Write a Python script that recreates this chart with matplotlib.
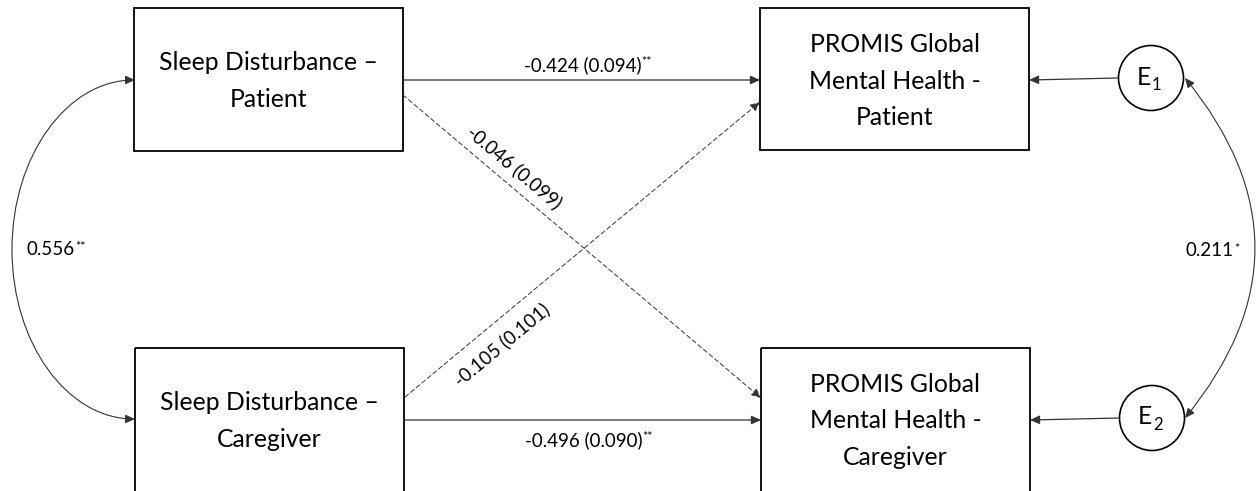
import numpy as np
import matplotlib
matplotlib.use("Agg")
import matplotlib.pyplot as plt
from matplotlib.patches import Rectangle, Circle, FancyArrowPatch
from matplotlib.path import Path

# ---- model content ----
predictors = ["Sleep Disturbance –\nPatient", "Sleep Disturbance –\nCaregiver"]
outcomes = ["PROMIS Global\nMental Health -\nPatient", "PROMIS Global\nMental Health -\nCaregiver"]
error_terms = ["1", "2"]

direct_est = [-0.424, -0.496]
direct_se = [0.094, 0.090]
direct_sig = ["**", "**"]

cross_est = [-0.046, -0.105]     # patient->caregiver, caregiver->patient
cross_se = [0.099, 0.101]
cross_sig = ["", ""]

pred_cov = 0.556
pred_cov_sig = "**"
err_cov = 0.211
err_cov_sig = "*"

FONT = "Lato"
plt.rcParams["font.family"] = [FONT, "DejaVu Sans"]

fig = plt.figure(figsize=(12.56, 4.91), dpi=100)
ax = fig.add_axes([0, 0, 1, 1])
ax.set_xlim(0, 1256)
ax.set_ylim(491, 0)
ax.axis("off")

LINE = "#333333"
BOX_FS = 17.8
LAB_FS = 13.5
STAR_FS = 9

# layout
pred_boxes = [(134, 8, 269, 143), (135, 348, 269, 145)]
out_boxes = [(760, 8, 269, 142), (761, 348, 269, 145)]
err_centers = [(1151, 78), (1152, 418)]
err_r = 32.5


def arrow(path_or_pts, style="-|>", ls="-", lw=0.9, color=LINE):
    kw = dict(arrowstyle=style + ",head_length=0.4,head_width=0.18",
              mutation_scale=14.4, lw=lw, ls=ls, color=color, shrinkA=0, shrinkB=0)
    if isinstance(path_or_pts, Path):
        a = FancyArrowPatch(path=path_or_pts, **kw)
    else:
        (x0, y0), (x1, y1) = path_or_pts
        a = FancyArrowPatch((x0, y0), (x1, y1), **kw)
    ax.add_patch(a)
    return a


def starred(x, y, text, stars, fs=LAB_FS, rotation=0, ha="center"):
    t = ax.text(x, y, text, fontsize=fs, ha=ha, va="center", rotation=rotation,
                rotation_mode="anchor", color="black")
    if stars:
        ax.annotate(stars, xy=(1.0, 0.98), xycoords=t, xytext=(0.3, 0),
                    textcoords="offset points", fontsize=STAR_FS, ha="left", va="top")
    return t


def fmt(est, se):
    return f"{est:.3f} ({se:.3f})"


# boxes
for (x, y, w, h), lab in zip(pred_boxes + out_boxes, predictors + outcomes):
    ax.add_patch(Rectangle((x, y), w, h, fill=False, ec="black", lw=1.3))
    ax.text(x + w / 2, y + 73, lab, fontsize=BOX_FS, ha="center", va="center",
            linespacing=1.7)

# error circles
for (cx, cy), sub in zip(err_centers, error_terms):
    ax.add_patch(Circle((cx, cy), err_r, fill=False, ec="black", lw=1.2))
    e = ax.text(cx - 7, cy - 1, "E", fontsize=BOX_FS, ha="center", va="center")
    ax.annotate(sub, xy=(1.0, 0.15), xycoords=e, xytext=(0.5, 0),
                textcoords="offset points", fontsize=12, ha="left", va="center")

# direct paths
direct_y = [80, 420]
direct_lab_y = [65, 440]
for i in range(2):
    px, py, pw, ph = pred_boxes[i]
    ox, oy, ow, oh = out_boxes[i]
    y = direct_y[i]
    arrow([(px + pw, y), (ox, y)])
    starred((px + pw + ox) / 2 + 1, direct_lab_y[i], fmt(direct_est[i], direct_se[i]), direct_sig[i])

# cross-lagged paths (dashed)
cross_pts = [[(403, 95), (761, 398)], [(405, 397), (760, 102)]]
cross_lab = [(515, 167), (502, 344)]
for i in range(2):
    (x0, y0), (x1, y1) = cross_pts[i]
    arrow(cross_pts[i], ls=(0, (4.5, 3)), lw=0.7)
    d0 = ax.transData.transform((x0, y0))
    d1 = ax.transData.transform((x1, y1))
    ang = np.degrees(np.arctan2(d1[1] - d0[1], d1[0] - d0[0]))
    starred(cross_lab[i][0], cross_lab[i][1], fmt(cross_est[i], cross_se[i]), cross_sig[i],
            rotation=ang)

# error -> outcome
for (cx, cy), (ox, oy, ow, oh), ty in zip(err_centers, out_boxes, [80, 420]):
    arrow([(cx - err_r, cy), (ox + ow, ty)])

# covariance between predictors: half-ellipse on the left
k = 0.5523
x0, ya, yb = 135, 80, 419
xa = 12
ym = (ya + yb) / 2
ry = (yb - ya) / 2
rx = x0 - xa
verts = [(x0, ya), (x0 - k * rx, ya), (xa, ym - k * ry), (xa, ym),
         (xa, ym + k * ry), (x0 - k * rx, yb), (x0, yb)]
codes = [Path.MOVETO] + [Path.CURVE4] * 6
arrow(Path(verts, codes), style="<|-|>", lw=0.8)
starred(51, 249, f"{pred_cov:.3f}", pred_cov_sig)

# covariance between residuals: circular-ish arc on the right
x0r, ya, yb = 1185, 78, 418
verts = [(x0r, ya), (x0r + 139, (ya + yb) / 2), (x0r, yb)]
codes = [Path.MOVETO, Path.CURVE3, Path.CURVE3]
arrow(Path(verts, codes), style="<|-|>", lw=0.8)
starred(1210, 251, f"{err_cov:.3f}", err_cov_sig)

fig.savefig("out.png", dpi=100, facecolor="white")
